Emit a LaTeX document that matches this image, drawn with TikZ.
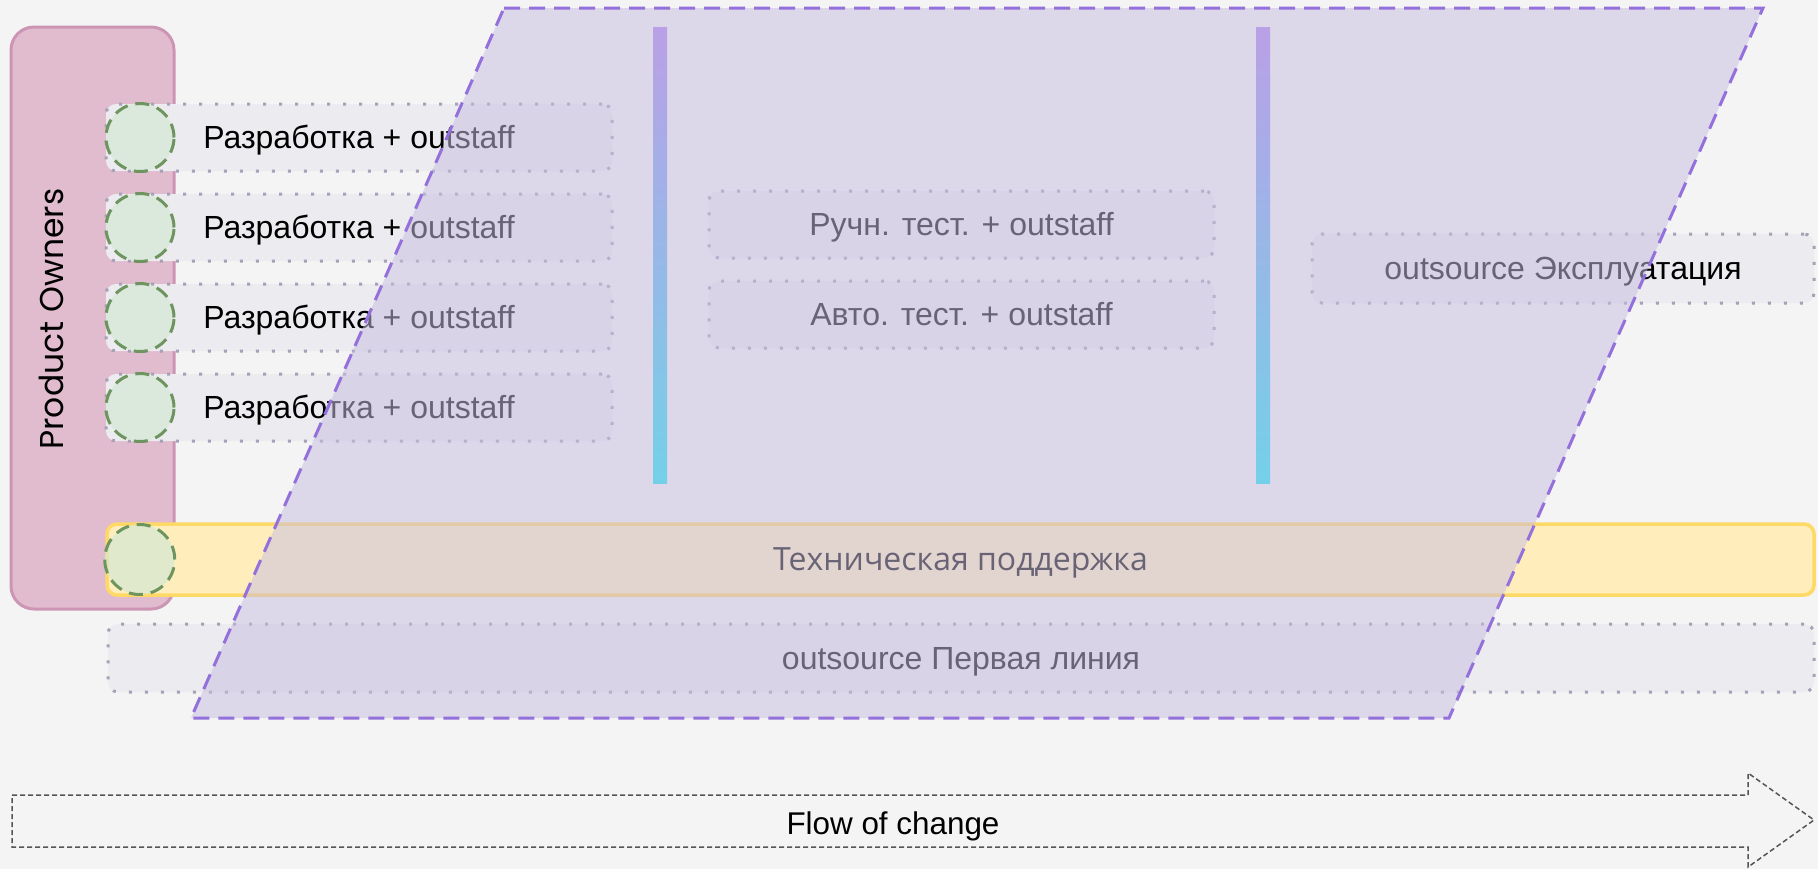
\documentclass[tikz,border=0pt]{standalone}
\usepackage{fontspec}
\setmainfont{Liberation Sans}
\newfontfamily\opensans{Open Sans}
\newfontfamily\poppins{Poppins}
\usetikzlibrary{positioning}
\definecolor{pbg}{HTML}{F4F4F4}
\definecolor{pink}{HTML}{E0BCCE}
\definecolor{pinkline}{HTML}{CD95B4}
\definecolor{lanefill}{HTML}{ECEBEF}
\definecolor{dotgray}{HTML}{A5A1B6}
\definecolor{circfill}{HTML}{D5E8D4}
\definecolor{circline}{HTML}{6E9460}
\definecolor{yfill}{HTML}{FFEEBC}
\definecolor{yline}{HTML}{FFD966}
\definecolor{ovfill}{HTML}{C8BEE2}
\definecolor{ovline}{HTML}{9370DB}
\definecolor{bartop}{HTML}{BAA0E6}
\definecolor{barbot}{HTML}{74D0E8}
\definecolor{flowline}{HTML}{555555}
\tikzset{
  lane/.style={draw=dotgray,fill=lanefill,line width=1.5pt,dash pattern=on 1.5pt off 6.5pt,rounded corners=5pt,inner sep=0pt,align=center,text height=13.5pt,text depth=2.4pt,font=\fontsize{16}{19}\selectfont},
  devrow/.style={lane,minimum width=253pt,minimum height=33.5pt},
  pocircle/.style={circle,draw=circline,fill=circfill,fill opacity=0.7,draw opacity=1,line width=1.5pt,dash pattern=on 7pt off 4pt,minimum size=34pt,inner sep=0pt},
  band/.style={draw=yline,fill=yfill,line width=1.75pt,rounded corners=5pt,inner sep=0pt,text height=13.5pt,text depth=2.4pt,font=\opensans\fontsize{16}{19}\selectfont},
  owners/.style={draw=pinkline,fill=pink,line width=1.5pt,rounded corners=11.5pt},
  overlay/.style={fill=ovfill,fill opacity=0.52,draw=ovline,draw opacity=1,line width=1.5pt,dash pattern=on 8pt off 4.5pt},
  flow/.style={draw=flowline,line width=0.75pt,dash pattern=on 2.5pt off 1.5pt},
}
\begin{document}
\begin{tikzpicture}[x=0.5pt,y=-0.5pt]
  \fill[pbg] (0,0) rectangle (1818,869);
  \useasboundingbox (0,0) rectangle (1818,869);

  % product owners
  \draw[owners] (11,27) rectangle (174,609);
  \node[rotate=90,font=\poppins\fontsize{16.5}{19}\selectfont] (po) at (51,319) {Product Owners};

  % development rows
  \node[devrow] (dev1) at (359,137.5) {Разработка + outstaff};
  \node[devrow,below=10pt of dev1] (dev2) {Разработка + outstaff};
  \node[devrow,below=10pt of dev2] (dev3) {Разработка + outstaff};
  \node[devrow,below=10pt of dev3] (dev4) {Разработка + outstaff};

  % testing
  \node[devrow,minimum width=252.5pt] (manual) at (961.5,224.5) {Ручн. тест. + outstaff};
  \node[devrow,minimum width=252.5pt,below=10pt of manual] (auto) {Авто. тест. + outstaff};

  % operations
  \node[lane,minimum width=251pt,minimum height=34.5pt] (ops) at (1563,268.5) {outsource Эксплуатация};

  % support
  \node[band,minimum width=853.5pt,minimum height=35.5pt] (support) at (960.5,559.5) {Техническая поддержка};
  \node[lane,minimum width=853pt,minimum height=34pt] (firstline) at (961,658) {outsource Первая линия};

  % owners' circles
  \node[pocircle,right=0pt of dev1.west] (c1) {};
  \node[pocircle,right=0pt of dev2.west] (c2) {};
  \node[pocircle,right=0pt of dev3.west] (c3) {};
  \node[pocircle,right=0pt of dev4.west] (c4) {};
  \node[pocircle,minimum size=35pt,right=-1pt of support.west] (c5) {};

  % delivery area
  \draw[overlay] (504,8) -- (1763,8) -- (1449,718) -- (191,718) -- cycle;
  \shade[top color=bartop,bottom color=barbot] (653,27) rectangle (667,483);
  \shade[top color=bartop,bottom color=barbot] (1256,27) rectangle (1270,483);

  % flow of change
  \draw[flow] (12,795) -- (1748,795) -- (1748,773) -- (1814,820) -- (1748,867)
    -- (1748,847) -- (12,847) -- cycle;
  \node[font=\fontsize{15.7}{18}\selectfont] (flowtext) at (893,826) {Flow of change};
\end{tikzpicture}
\end{document}
